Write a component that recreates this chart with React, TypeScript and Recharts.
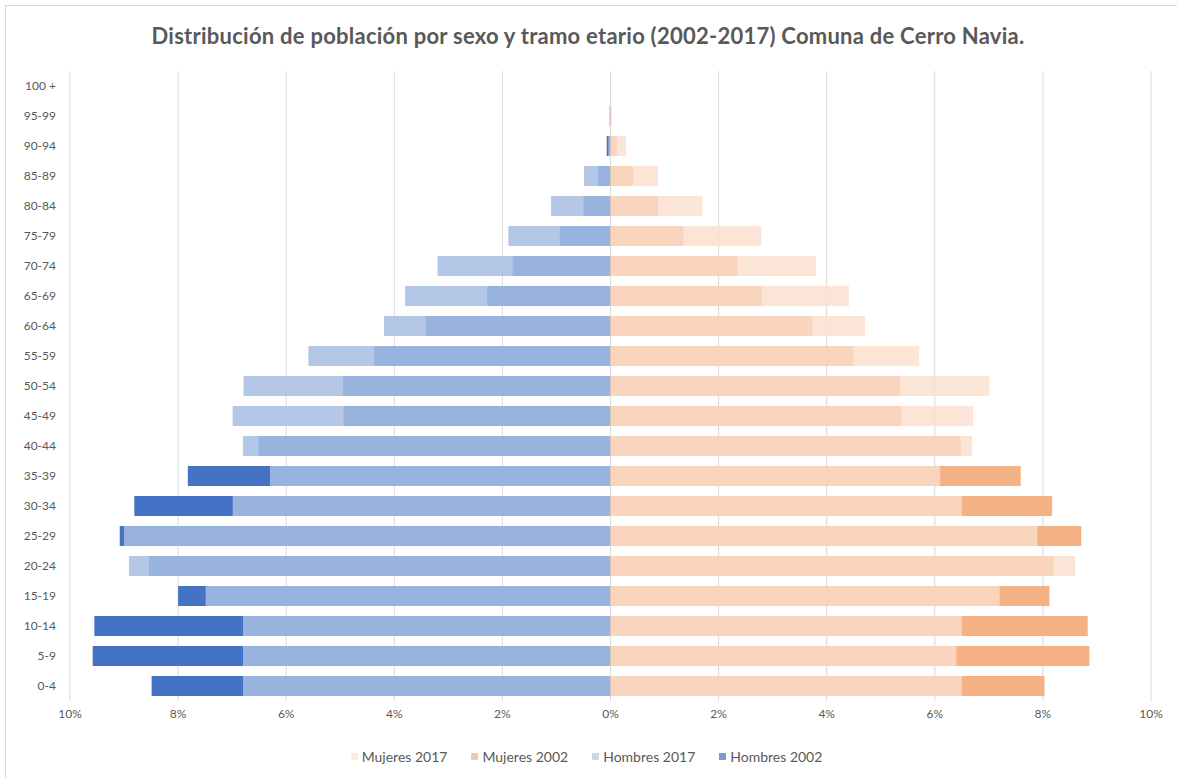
import { BarChart, Bar, XAxis, YAxis, CartesianGrid, Legend } from 'recharts';

// Age groups, top to bottom as in the pyramid
const ageGroups = [
  '100 +', '95-99', '90-94', '85-89', '80-84', '75-79', '70-74', '65-69', '60-64', '55-59', '50-54',
  '45-49', '40-44', '35-39', '30-34', '25-29', '20-24', '15-19', '10-14', '5-9', '0-4',
];

// Share of total population (%)
const hombres2002 = [0, 0.01, 0.07, 0.23, 0.5, 0.94, 1.81, 2.28, 3.42, 4.37, 4.95, 4.94, 6.51, 7.82, 8.81, 9.08, 8.54, 8.0, 9.55, 9.58, 8.49];
const hombres2017 = [0, 0.02, 0.04, 0.49, 1.1, 1.89, 3.2, 3.8, 4.19, 5.59, 6.79, 6.99, 6.8, 6.3, 6.99, 9.0, 8.91, 7.49, 6.8, 6.8, 6.8];
const mujeres2002 = [0, 0.01, 0.12, 0.42, 0.88, 1.35, 2.35, 2.8, 3.74, 4.49, 5.36, 5.39, 6.48, 7.59, 8.17, 8.71, 8.2, 8.12, 8.83, 8.86, 8.03];
const mujeres2017 = [0, 0.02, 0.29, 0.88, 1.7, 2.79, 3.8, 4.41, 4.71, 5.71, 7.01, 6.71, 6.69, 6.1, 6.5, 7.9, 8.6, 7.2, 6.5, 6.4, 6.5];

const xTicks = [-10, -8, -6, -4, -2, 0, 2, 4, 6, 8, 10];

const TITLE = 'Distribución de población por sexo y tramo etario (2002-2017) Comuna de Cerro Navia.';
const FONT = 'Lato, "Open Sans", sans-serif';
const TEXT = '#595959';

// men go to the left, so their values are negated
const chartData = ageGroups.map((age, i) => ({
  age,
  h2002: -hombres2002[i],
  h2017: -hombres2017[i],
  m2002: mujeres2002[i],
  m2017: mujeres2017[i],
}));

// legend order as in the original (Excel lists the series reversed)
const legendItems = [
  { name: 'Mujeres 2017', color: '#fadecc', opacity: 0.8 },
  { name: 'Mujeres 2002', color: '#f4b183', opacity: 1 },
  { name: 'Hombres 2017', color: '#a8bee3', opacity: 0.86 },
  { name: 'Hombres 2002', color: '#4472c4', opacity: 1 },
];

function PyramidLegend() {
  return (
    <div style={{ display: 'flex', justifyContent: 'center', gap: 24, fontFamily: FONT, fontSize: 14, color: TEXT, height: 20, alignItems: 'center', paddingLeft: 12 }}>
      {legendItems.map((item) => (
        <span key={item.name} style={{ display: 'flex', alignItems: 'center' }}>
          <span style={{ width: 7, height: 7, background: item.color, opacity: item.opacity * 0.7, marginRight: 4, display: 'inline-block' }} />
          {item.name}
        </span>
      ))}
    </div>
  );
}

export default function App() {
  return (
    <div style={{ position: 'absolute', left: 0, top: 0, width: 1177, height: 778, background: '#fff', overflow: 'hidden' }}>
      <div style={{ position: 'absolute', left: 5, top: 5, width: 1180, height: 790, borderTop: '1px solid #d9d9d9', borderLeft: '1px solid #d9d9d9' }} />
      <div
        style={{
          position: 'absolute',
          left: 5,
          top: 22,
          width: 1166,
          textAlign: 'center',
          fontFamily: FONT,
          fontWeight: 700,
          fontSize: 22,
          letterSpacing: 0.25,
          color: TEXT,
        }}
      >
        {TITLE}
      </div>
      <div style={{ position: 'absolute', left: 0, top: 0 }}>
        <BarChart
          width={1177}
          height={778}
          data={chartData}
          layout="vertical"
          barSize={20}
          barGap={-20}
          margin={{ top: 71, right: 26, left: 10, bottom: 27 }}
        >
          <CartesianGrid horizontal={false} stroke="#d9d9d9" />
          <XAxis
            type="number"
            domain={[-10, 10]}
            ticks={xTicks}
            tickFormatter={(v: number) => `${Math.abs(v)}%`}
            axisLine={false}
            tickLine={false}
            height={30}
            tick={{ fill: TEXT, fontSize: 12, fontFamily: FONT }}
          />
          <YAxis
            type="category"
            dataKey="age"
            width={60}
            axisLine={false}
            tickLine={false}
            tickMargin={8}
            interval={0}
            tick={{ fill: TEXT, fontSize: 12, fontFamily: FONT }}
          />
          <Legend verticalAlign="bottom" content={() => <PyramidLegend />} wrapperStyle={{ bottom: 12 }} />
          <Bar dataKey="h2002" name="Hombres 2002" fill="#4472c4" isAnimationActive={false} />
          <Bar dataKey="h2017" name="Hombres 2017" fill="#a8bee3" fillOpacity={0.86} isAnimationActive={false} />
          <Bar dataKey="m2002" name="Mujeres 2002" fill="#f4b183" isAnimationActive={false} />
          <Bar dataKey="m2017" name="Mujeres 2017" fill="#fadecc" fillOpacity={0.8} isAnimationActive={false} />
        </BarChart>
      </div>
    </div>
  );
}
